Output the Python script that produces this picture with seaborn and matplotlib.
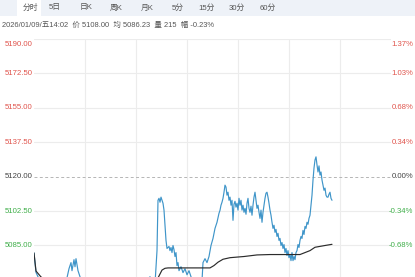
import matplotlib
matplotlib.use("Agg")
import matplotlib.pyplot as plt
from matplotlib.patches import Rectangle
import seaborn as sns
import pandas as pd

# ---------------- data ----------------
prev_close = 5120.0
session_minutes = 357

price_minutes = [0, 2, 4, 8, 12, 16, 21, 26, 30, 33, 35, 37, 38, 40, 41, 42, 43, 44, 46, 49,
                 54, 61, 66, 73, 81, 88, 96, 104, 111, 116, 118, 121, 123, 124, 125, 126, 127, 128, 129, 130,
                 131, 132, 133, 135, 136, 137, 138, 139, 140, 141, 142, 143, 144, 145, 147, 149, 151, 153, 155, 157,
                 159, 162, 165, 168, 169, 171, 173, 175, 177, 179, 181, 183, 185, 186, 187, 188, 189, 190, 191, 192,
                 193, 194, 195, 196, 197, 198, 199, 200, 201, 202, 203, 204, 205, 206, 207, 208, 209, 210, 211, 212,
                 213, 214, 215, 216, 217, 218, 219, 220, 221, 222, 223, 224, 225, 226, 227, 228, 229, 230, 231, 232,
                 233, 234, 235, 236, 237, 238, 239, 240, 241, 242, 243, 244, 245, 246, 247, 248, 249, 250, 251, 252,
                 253, 254, 255, 256, 257, 258, 259, 260, 261, 262, 263, 264, 265, 266, 267, 268, 269, 270, 271, 272,
                 273, 274, 275, 276, 277, 278, 279, 280, 281, 282, 283, 284, 285, 286, 287, 288, 289, 290, 291, 292,
                 293, 294, 295, 296, 297, 298]
price_values = [5081.2, 5071.3, 5069.1, 5064.5, 5062.0, 5065.6, 5061.0, 5064.0, 5067.0, 5068.6, 5073.2, 5076.3, 5072.2, 5077.8, 5074.2, 5078.3, 5075.2, 5072.2, 5069.1, 5064.5,
                5062.0, 5065.0, 5062.0, 5064.0, 5061.0, 5063.5, 5061.5, 5064.0, 5066.0, 5069.1, 5067.1, 5065.5, 5082.4, 5108.0, 5109.0, 5107.0, 5109.6, 5108.0, 5106.5, 5103.0,
                5095.3, 5087.6, 5083.5, 5084.5, 5082.4, 5084.0, 5081.4, 5085.0, 5082.9, 5079.4, 5081.4, 5074.8, 5076.3, 5072.2, 5074.2, 5071.2, 5073.2, 5070.1, 5072.2, 5069.1,
                5067.0, 5064.5, 5066.0, 5067.0, 5076.3, 5078.3, 5076.3, 5079.4, 5085.0, 5088.6, 5093.7, 5096.8, 5101.4, 5102.9, 5105.5, 5107.0, 5109.0, 5112.1, 5115.7, 5114.7,
                5110.6, 5112.1, 5108.0, 5109.6, 5105.5, 5108.0, 5097.8, 5106.0, 5107.5, 5104.5, 5106.5, 5103.0, 5109.0, 5105.5, 5108.0, 5103.0, 5105.5, 5101.9, 5103.9, 5100.9,
                5106.5, 5109.0, 5103.9, 5101.9, 5105.0, 5100.4, 5105.5, 5109.6, 5112.1, 5108.0, 5103.9, 5105.5, 5101.9, 5098.8, 5103.0, 5096.8, 5101.9, 5105.5, 5109.0, 5111.6,
                5112.1, 5109.6, 5106.5, 5103.0, 5100.4, 5096.8, 5093.7, 5095.3, 5091.7, 5093.2, 5089.6, 5091.2, 5087.6, 5088.6, 5085.0, 5086.5, 5083.5, 5085.5, 5081.4, 5083.5,
                5079.9, 5082.4, 5078.8, 5080.4, 5077.3, 5081.4, 5077.3, 5079.4, 5077.8, 5081.4, 5082.4, 5085.5, 5084.0, 5087.6, 5089.6, 5088.6, 5092.7, 5090.6, 5094.7, 5093.7,
                5096.8, 5095.8, 5098.8, 5100.4, 5105.5, 5110.6, 5118.3, 5124.4, 5128.5, 5130.1, 5126.0, 5122.4, 5125.5, 5120.8, 5122.4, 5118.3, 5115.7, 5113.1, 5114.2, 5110.6,
                5109.6, 5109.6, 5111.1, 5112.1, 5109.0, 5108.0]

avg_minutes = [0, 2, 7, 16, 46, 86, 116, 122, 125, 128, 131, 134, 156, 176, 180, 184, 189, 196, 210, 223,
               236, 249, 266, 271, 276, 281, 291, 298]
avg_values = [5081.2, 5072.0, 5069.0, 5066.0, 5067.0, 5065.5, 5065.5, 5066.5, 5069.5, 5072.5, 5073.4, 5073.6, 5073.6, 5073.6, 5074.8, 5076.5, 5078.0, 5078.8, 5079.4, 5080.2,
              5080.4, 5080.4, 5080.4, 5081.4, 5082.4, 5084.1, 5085.0, 5085.6]

y_ticks = [5050.0, 5067.5, 5085.0, 5102.5, 5120.0, 5137.5, 5155.0, 5172.5, 5190.0]
pct_labels = ["-1.37%", "-1.03%", "-0.68%", "-0.34%", "0.00%", "0.34%", "0.68%", "1.03%", "1.37%"]
tab_labels = ["分时", "5日", "日K", "周K", "月K", "5分", "15分", "30分", "60分"]
info_text = "2026/01/09/五14:02  价 5108.00  均 5086.23  量 215  幅 -0.23%"

# ---------------- style ----------------
sns.set_theme(style="white")
FONTS = ["Liberation Sans", "Noto Sans CJK SC", "DejaVu Sans"]
plt.rcParams["font.family"] = FONTS

RED = "#e0544c"
GREEN = "#3fae49"
GRAY = "#444444"
BLUE = "#3f95c9"
GRID = "#ececec"

W, H = 415, 277
fig = plt.figure(figsize=(W / 100, H / 100), dpi=100)
fig.patch.set_facecolor("white")

# header bar
fig.patches.append(Rectangle((0, (H - 16) / H), 1, 16 / H, transform=fig.transFigure,
                             facecolor="#eef2f8", edgecolor="none", zorder=0))
fig.patches.append(Rectangle((17 / W, (H - 16) / H), 24 / W, 16 / H, transform=fig.transFigure,
                             facecolor="white", edgecolor="none", zorder=1))
tab_x = [30, 55, 86, 116, 147, 178, 207, 237, 268]
for lbl, tx in zip(tab_labels, tab_x):
    fig.text(tx / W, (H - 8) / H, lbl, ha="center", va="center", fontsize=5.6,
             color="#555555", family=FONTS, zorder=3)
fig.text(2 / W, (H - 25) / H, info_text, ha="left", va="center", fontsize=5.4,
         color="#555555", family=FONTS)

# plot area (bottom part is cut off by the figure edge)
y_top_px, y_bot_px = 39.1, 314.3
ax = fig.add_axes([34 / W, (H - y_bot_px) / H, session_minutes / W, (y_bot_px - y_top_px) / H])
ax.set_xlim(0, session_minutes)
ax.set_ylim(y_ticks[0], y_ticks[-1])
for s in ax.spines.values():
    s.set_visible(False)
ax.set_xticks([])
ax.set_yticks([])
ax.patch.set_alpha(0)

for k in range(1, 7):
    ax.axvline(k * session_minutes / 7, color=GRID, lw=0.8, zorder=0)
for v in y_ticks:
    if v == prev_close:
        ax.axhline(v, color="#b5b5b5", lw=0.7, ls=(0, (3, 2.5)), zorder=1)
    else:
        ax.axhline(v, color=GRID, lw=0.8, zorder=0)

price_df = pd.DataFrame({"minute": price_minutes, "price": price_values})
avg_df = pd.DataFrame({"minute": avg_minutes, "avg": avg_values})
sns.lineplot(data=price_df, x="minute", y="price", ax=ax, color=BLUE, lw=0.85, zorder=3)
sns.lineplot(data=avg_df, x="minute", y="avg", ax=ax, color="#2b2b2b", lw=0.85, zorder=4)
ax.set_xlabel("")
ax.set_ylabel("")

# labels only for the levels that lie inside the visible picture
fig.canvas.draw()
for v, pl in zip(y_ticks, pct_labels):
    py = ax.transData.transform((0, v))[1]
    if py < 10:
        continue
    col = RED if v > prev_close else (GREEN if v < prev_close else GRAY)
    va = "top" if v == y_ticks[-1] else "center"
    dy = -1.5 if v == y_ticks[-1] else 0
    ax.annotate(f"{v:.2f}", xy=(0, v), xycoords=("axes fraction", "data"),
                xytext=(-0.8, dy), textcoords="offset points", ha="right", va=va,
                fontsize=5.6, color=col, family=FONTS, annotation_clip=False)
    ax.annotate(pl, xy=(1, v), xycoords=("axes fraction", "data"),
                xytext=(16, dy), textcoords="offset points", ha="right", va=va,
                fontsize=5.6, color=col, family=FONTS, annotation_clip=False)

fig.savefig("out.png", dpi=100)
